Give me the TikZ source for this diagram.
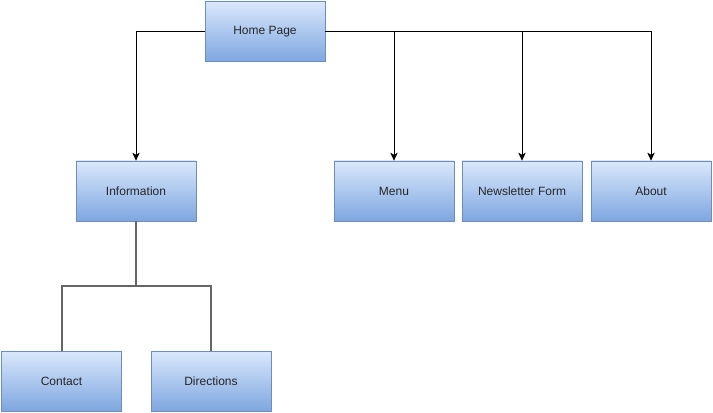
\documentclass[tikz,border=0pt]{standalone}
\usepackage{fontspec}
\setmainfont{Liberation Sans}
\usetikzlibrary{arrows.meta}
\definecolor{boxtop}{HTML}{DAE8FC}
\definecolor{boxbottom}{HTML}{7EA6E0}
\definecolor{boxline}{HTML}{6C8EBF}
\definecolor{treeline}{HTML}{666666}
\begin{document}
\begin{tikzpicture}[x=0.75pt,y=-0.75pt,
        page/.style={rectangle,draw=boxline,top color=boxtop,bottom color=boxbottom,
          minimum width=90pt,minimum height=45pt,inner sep=0pt,
          font=\fontsize{9pt}{11pt}\selectfont,text=black!85},
        link/.style={draw=black,line width=0.75pt,-{Stealth[length=6pt,width=5.5pt,inset=1.5pt]}},
        sub/.style={draw=treeline,line width=1.5pt}]
        \useasboundingbox (0,0) rectangle (713,413);
        \node[page] (home) at (265,31.5) {Home Page};
        \node[page] (info) at (136,191) {Information};
        \node[page] (menu) at (394,191) {Menu};
        \node[page] (news) at (522,191) {Newsletter Form};
        \node[page] (about) at (651,191) {About};
        \node[page] (contact) at (61.5,381) {Contact};
        \node[page] (directions) at (211,381) {Directions};
        \coordinate (split) at (136,286);
        \draw[link] (home.west) -| (info.north);
        \draw[link] (home.east) -| (menu.north);
        \draw[link] (home.east) -| (news.north);
        \draw[link] (home.east) -| (about.north);
        \draw[sub] (info.south) -- (split) -| (contact.north);
        \draw[sub] (split) -| (directions.north);
      \end{tikzpicture}
\end{document}
